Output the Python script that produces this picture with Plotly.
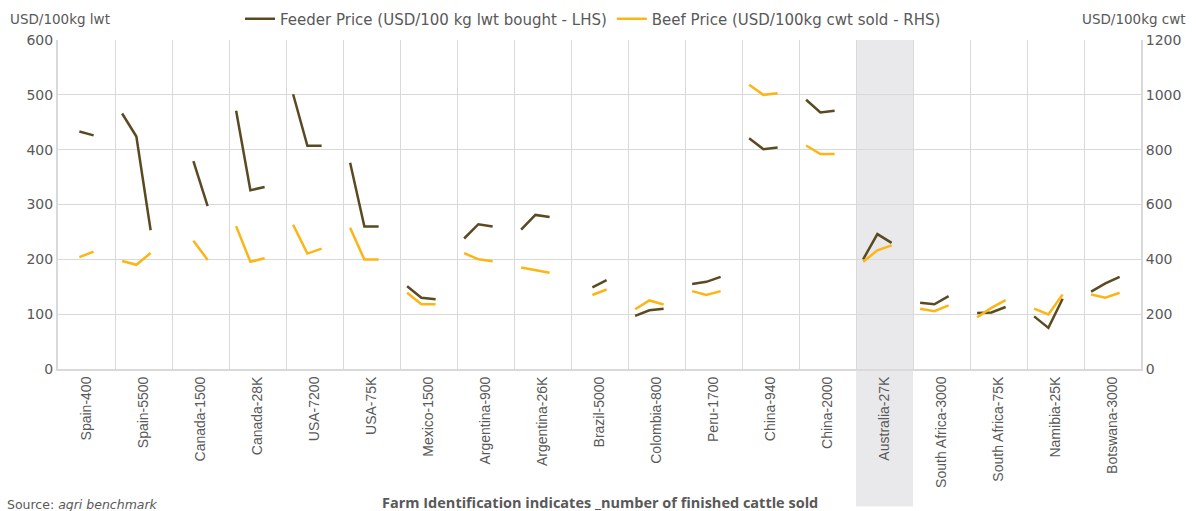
import plotly.graph_objects as go

categories = ["Spain-400", "Spain-5500", "Canada-1500", "Canada-28K", "USA-7200", "USA-75K",
              "Mexico-1500", "Argentina-900", "Argentina-26K", "Brazil-5000", "Colombia-800",
              "Peru-1700", "China-940", "China-2000", "Australia-27K", "South Africa-3000",
              "South Africa-75K", "Namibia-25K", "Botswana-3000"]

# three observations per farm (None = not reported)
feeder_price = [
    [None, 433, 426], [466, 424, 253], [None, 379, 297], [471, 326, 332], [501, 407, 407],
    [376, 260, 260], [151, 130, 127], [238, 264, 260], [254, 281, 277], [None, 149, 162],
    [97, 107, 110], [155, 159, 168], [421, 401, 404], [491, 468, 471], [200, 246, 230],
    [121, 118, 133], [102, 103, 113], [96, 75, 128], [141, 156, 168],
]
beef_price = [
    [None, 408, 428], [394, 380, 423], [None, 468, 398], [521, 391, 404], [526, 421, 439],
    [515, 399, 399], [278, 236, 236], [423, 400, 393], [370, 360, 351], [None, 270, 290],
    [218, 250, 235], [284, 270, 284], [1037, 1000, 1006], [815, 784, 784], [391, 433, 451],
    [220, 211, 232], [189, 223, 251], [220, 199, 272], [272, 260, 278],
]
highlight = "Australia-27K"

SLOTS = 4  # 3 observations + 1 gap per farm


def flatten(series):
    xs, ys = [], []
    for i, vals in enumerate(series):
        for j, v in enumerate(vals):
            xs.append(i * SLOTS + j + 0.5)
            ys.append(v)
        xs.append(i * SLOTS + SLOTS - 0.5)
        ys.append(None)
    return xs, ys


fx, fy = flatten(feeder_price)
bx, by = flatten(beef_price)

TXT = "#595959"
GRID = "#D9D9D9"
FONT = "DejaVu Sans, sans-serif"
TICKFONT = "Liberation Sans, Arial, sans-serif"

fig = go.Figure()
fig.add_trace(go.Scatter(x=fx, y=fy, mode="lines", name="Feeder Price (USD/100 kg lwt bought - LHS)",
                         line=dict(color="#5A4A22", width=2.5), connectgaps=False, yaxis="y"))
fig.add_trace(go.Scatter(x=bx, y=by, mode="lines", name="Beef Price (USD/100kg cwt sold - RHS)",
                         line=dict(color="#FDB515", width=2.5), connectgaps=False, yaxis="y2"))

n = len(categories)
hi = categories.index(highlight)
fig.add_shape(type="rect", xref="x", yref="paper", x0=hi * SLOTS, x1=(hi + 1) * SLOTS,
              y0=-0.418, y1=1, fillcolor="#E9E9EB", line=dict(width=0), layer="below")

fig.update_layout(
    width=1196, height=511,
    margin=dict(l=58, r=55, t=40, b=142, autoexpand=False),
    paper_bgcolor="white", plot_bgcolor="white",
    font=dict(family=FONT, color=TXT, size=13),
    showlegend=True,
    legend=dict(orientation="h", x=0.494, xanchor="center", xref="paper",
                y=1 - 19 / 511, yanchor="middle", yref="container",
                font=dict(size=15, color=TXT, family=FONT), bgcolor="rgba(0,0,0,0)"),
    xaxis=dict(range=[0, n * SLOTS], tickmode="array",
               tickvals=[i * SLOTS + SLOTS / 2 for i in range(n)], ticktext=categories,
               tickangle=-90, showgrid=False, ticks="", zeroline=False,
               tickfont=dict(size=14, color=TXT, family=TICKFONT),
               showline=True, linecolor=GRID, linewidth=2, mirror=False,
               minor=dict(tickmode="array", tickvals=[i * SLOTS for i in range(1, n)],
                          showgrid=True, gridcolor=GRID, gridwidth=1, ticks="")),
    yaxis=dict(range=[0, 600], dtick=100, showgrid=True, gridcolor=GRID, gridwidth=1,
               zeroline=False, showline=True, linecolor=GRID, linewidth=2,
               tickfont=dict(size=14, color=TXT), ticks=""),
    yaxis2=dict(range=[0, 1200], dtick=200, overlaying="y", side="right", showgrid=False,
                zeroline=False, showline=True, linecolor=GRID, linewidth=2,
                tickfont=dict(size=14, color=TXT), ticks=""),
    annotations=[
        dict(text="USD/100kg lwt", xref="paper", yref="paper", x=-0.046, y=1.064,
             xanchor="left", yanchor="middle", showarrow=False, font=dict(size=13.5, color=TXT)),
        dict(text="USD/100kg cwt", xref="paper", yref="paper", x=1.0434, y=1.064,
             xanchor="right", yanchor="middle", showarrow=False, font=dict(size=13.5, color=TXT)),
        dict(text="Source: <i>agri benchmark</i>", xref="paper", yref="paper", x=-0.049, y=-0.413,
             xanchor="left", yanchor="middle", showarrow=False, font=dict(size=12.5, color=TXT)),
        dict(text="<b>Farm Identification indicates _number of finished cattle sold</b>",
             xref="paper", yref="paper", x=0.5, y=-0.405, xanchor="center", yanchor="middle",
             showarrow=False, font=dict(size=14.5, color=TXT, family="Open Sans, sans-serif")),
    ],
)

fig.write_html("out.html", config={"displayModeBar": False},
               post_script="document.body.style.margin='0';")
